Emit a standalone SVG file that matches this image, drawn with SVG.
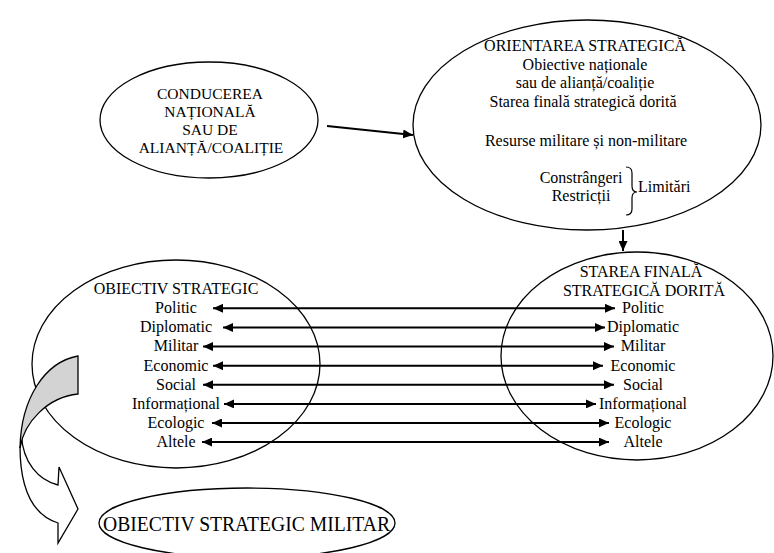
<svg xmlns="http://www.w3.org/2000/svg" width="774" height="553" viewBox="0 0 774 553">
<defs>
<style>
.t{font-family:'Liberation Serif','Times New Roman','DejaVu Serif',serif;font-size:16px;fill:#000;text-anchor:middle}
.s{font-size:15.5px}
.e{fill:none;stroke:#000;stroke-width:1.3}
.c{stroke:#000;stroke-width:2;fill:none}
</style>
<marker id="ah" markerUnits="userSpaceOnUse" markerWidth="11" markerHeight="9" refX="10" refY="4.5" orient="auto-start-reverse">
<path d="M0,0 L10,4.5 L0,9 Z" fill="#000"/>
</marker>
</defs>
<rect width="774" height="553" fill="#fff"/>

<g id="conducerea">
<ellipse class="e" cx="209" cy="120" rx="109" ry="58"/>
<text class="t s" x="210" y="99">CONDUCEREA</text>
<text class="t s" x="210" y="117">NAȚIONALĂ</text>
<text class="t s" x="210" y="135">SAU DE</text>
<text class="t s" x="211" y="153">ALIANȚĂ/COALIȚIE</text>
</g>

<g id="orientarea">
<ellipse class="e" cx="587" cy="125" rx="174" ry="105"/>
<text class="t" x="585" y="51">ORIENTAREA STRATEGICĂ</text>
<text class="t" x="585" y="70">Obiective naționale</text>
<text class="t" x="585" y="88">sau de alianță/coaliție</text>
<text class="t" x="583" y="107">Starea finală strategică dorită</text>
<text class="t" x="586" y="146">Resurse militare și non-militare</text>
<text class="t" x="581" y="183">Constrângeri</text>
<text class="t" x="581" y="201">Restricții</text>
<path d="M626,167 Q632,167 632,173 L632,186 Q632,192 637,192 Q632,192 632,198 L632,209 Q632,215 626,215" fill="none" stroke="#000" stroke-width="1.2"/>
<text class="t" x="638" y="192" style="text-anchor:start">Limitări</text>
</g>

<g id="obiectiv-strategic">
<ellipse class="e" cx="176" cy="364" rx="144" ry="104"/>
<text class="t" x="176" y="294">OBIECTIV STRATEGIC</text>
<text class="t" x="176" y="313">Politic</text>
<text class="t" x="176" y="332">Diplomatic</text>
<text class="t" x="176" y="351">Militar</text>
<text class="t" x="176" y="371">Economic</text>
<text class="t" x="176" y="390">Social</text>
<text class="t" x="176" y="409">Informațional</text>
<text class="t" x="176" y="428">Ecologic</text>
<text class="t" x="176" y="447">Altele</text>
</g>

<g id="starea-finala">
<ellipse class="e" cx="637" cy="356" rx="136" ry="104"/>
<text class="t" x="641" y="277">STAREA FINALĂ</text>
<text class="t" x="644" y="296">STRATEGICĂ DORITĂ</text>
<text class="t" x="643" y="313">Politic</text>
<text class="t" x="643" y="332">Diplomatic</text>
<text class="t" x="643" y="351">Militar</text>
<text class="t" x="643" y="371">Economic</text>
<text class="t" x="643" y="390">Social</text>
<text class="t" x="643" y="409">Informațional</text>
<text class="t" x="643" y="428">Ecologic</text>
<text class="t" x="643" y="447">Altele</text>
</g>

<g id="obiectiv-militar">
<ellipse class="e" cx="247" cy="523" rx="148" ry="35"/>
<text class="t" x="246.5" y="531" style="font-size:21px" textLength="287" lengthAdjust="spacingAndGlyphs">OBIECTIV STRATEGIC MILITAR</text>
</g>

<g id="connectors">
<line class="c" x1="327" y1="126" x2="413" y2="135" stroke-width="1.6" marker-end="url(#ah)"/>
<line class="c" x1="623" y1="230" x2="623" y2="251" stroke-width="1.6" marker-end="url(#ah)"/>
<line class="c" x1="213" y1="308.3" x2="615" y2="308.3" marker-start="url(#ah)" marker-end="url(#ah)"/>
<line class="c" x1="223" y1="327.5" x2="605" y2="327.5" marker-start="url(#ah)" marker-end="url(#ah)"/>
<line class="c" x1="203" y1="346.6" x2="614" y2="346.6" marker-start="url(#ah)" marker-end="url(#ah)"/>
<line class="c" x1="213" y1="365.7" x2="603" y2="365.7" marker-start="url(#ah)" marker-end="url(#ah)"/>
<line class="c" x1="203" y1="384.8" x2="614" y2="384.8" marker-start="url(#ah)" marker-end="url(#ah)"/>
<line class="c" x1="224" y1="403.9" x2="596" y2="403.9" marker-start="url(#ah)" marker-end="url(#ah)"/>
<line class="c" x1="212" y1="423" x2="609" y2="423" marker-start="url(#ah)" marker-end="url(#ah)"/>
<line class="c" x1="202" y1="442.1" x2="609" y2="442.1" marker-start="url(#ah)" marker-end="url(#ah)"/>
</g>

<g id="curved-arrow" stroke="#000" stroke-width="1.3" stroke-linejoin="miter">
<path d="M20,446 C20,490 33,515 58,523 L58,543 L78,509 L59,467 L58,485 C38,480 23,462 21.5,436" fill="#fff"/>
<path d="M78,356 C45,362 21,398 20,448 C24,422 48,397 78,394 Z" fill="#d3d3d3"/>
</g>
</svg>
